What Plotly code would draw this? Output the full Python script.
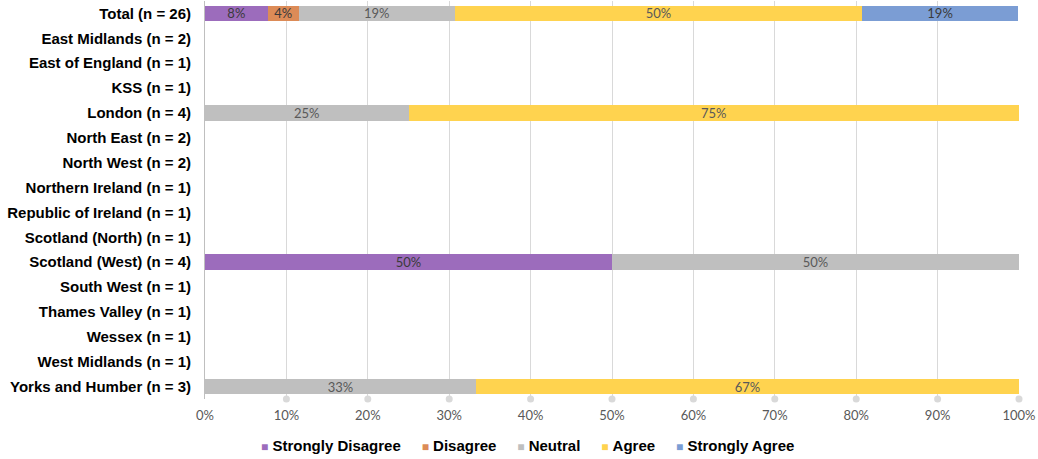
import plotly.graph_objects as go

categories = [
    "Total (n = 26)", "East Midlands (n = 2)", "East of England (n = 1)", "KSS (n = 1)",
    "London (n = 4)", "North East (n = 2)", "North West (n = 2)", "Northern Ireland (n = 1)",
    "Republic of Ireland (n = 1)", "Scotland (North) (n = 1)", "Scotland (West) (n = 4)",
    "South West (n = 1)", "Thames Valley (n = 1)", "Wessex (n = 1)", "West Midlands (n = 1)",
    "Yorks and Humber (n = 3)",
]

strongly_disagree = [7.7, 0, 0, 0, 0, 0, 0, 0, 0, 0, 50, 0, 0, 0, 0, 0]
disagree          = [3.8, 0, 0, 0, 0, 0, 0, 0, 0, 0, 0, 0, 0, 0, 0, 0]
neutral           = [19.2, 0, 0, 0, 25, 0, 0, 0, 0, 0, 50, 0, 0, 0, 0, 33.3]
agree             = [50, 0, 0, 0, 75, 0, 0, 0, 0, 0, 0, 0, 0, 0, 0, 66.7]
strongly_agree    = [19.2, 0, 0, 0, 0, 0, 0, 0, 0, 0, 0, 0, 0, 0, 0, 0]

series_names = ["Strongly Disagree", "Disagree", "Neutral", "Agree", "Strongly Agree"]
series_values = [strongly_disagree, disagree, neutral, agree, strongly_agree]
colors = ["#9c6cbc", "#dc8b57", "#bfbfbf", "#ffd34f", "#7b9dd4"]
text_colors = ["#3a3a3a", "#3a3a3a", "#595959", "#595959", "#3a3a3a"]

x_ticks = [0, 10, 20, 30, 40, 50, 60, 70, 80, 90, 100]
x_tick_labels = ["0%", "10%", "20%", "30%", "40%", "50%", "60%", "70%", "80%", "90%", "100%"]
dot_ticks = [10, 20, 30, 40, 50, 60, 70, 80, 90, 100]

fig = go.Figure()
for name, vals, col, tcol in zip(series_names, series_values, colors, text_colors):
    fig.add_trace(go.Bar(
        name=name, y=categories, x=vals, orientation="h",
        marker=dict(color=col, line=dict(width=0)),
        text=[f"{v:.0f}%" if v > 0 else "" for v in vals],
        textposition="inside", insidetextanchor="middle",
        textfont=dict(family="Lato", size=13, color=tcol),
        hoverinfo="x+y+name", showlegend=False,
    ))

fig.add_trace(go.Scatter(
    x=dot_ticks, y=[0] * len(dot_ticks), yaxis="y2", mode="markers",
    marker=dict(color="#d9d9d9", size=7), showlegend=False, hoverinfo="skip",
    cliponaxis=False,
))

# legend built as one centered line of text
sep = "&nbsp;" * 5
legend_text = sep.join(
    f"<span style='color:{c};font-size:12px'>■</span>&nbsp;{n}"
    for n, c in zip(series_names, colors)
)
fig.add_annotation(
    text=legend_text, xref="paper", yref="paper", x=0.3956, y=-0.117,
    xanchor="center", yanchor="middle", showarrow=False,
    font=dict(family="Liberation Sans", size=15, color="#000000", weight="bold"),
)

fig.update_layout(
    barmode="stack", bargap=0.38,
    width=1038, height=459,
    margin=dict(l=205, r=19, t=1, b=60, autoexpand=False),
    plot_bgcolor="white", paper_bgcolor="white",
    uniformtext=dict(minsize=13, mode="show"),
    xaxis=dict(range=[0, 100], tickmode="array", tickvals=x_ticks, ticktext=x_tick_labels,
               showgrid=True, gridcolor="#d9d9d9", gridwidth=1, zeroline=False,
               tickfont=dict(family="Lato", size=13, color="#595959"),
               ticklabelstandoff=7, layer="above traces", fixedrange=True),
    yaxis=dict(categoryorder="array", categoryarray=categories, autorange="reversed",
               showline=True, linecolor="#bfbfbf", linewidth=1, showgrid=False,
               tickfont=dict(family="Liberation Sans", size=15, color="#000000", weight="bold"),
               ticklabelstandoff=10, fixedrange=True),
    yaxis2=dict(overlaying="y", range=[0, 1], visible=False, fixedrange=True),
    showlegend=False,
)

fig.write_html(
    "out.html",
    config={"displayModeBar": False},
    post_script="document.body.style.margin='0';document.body.style.overflow='hidden';",
)
